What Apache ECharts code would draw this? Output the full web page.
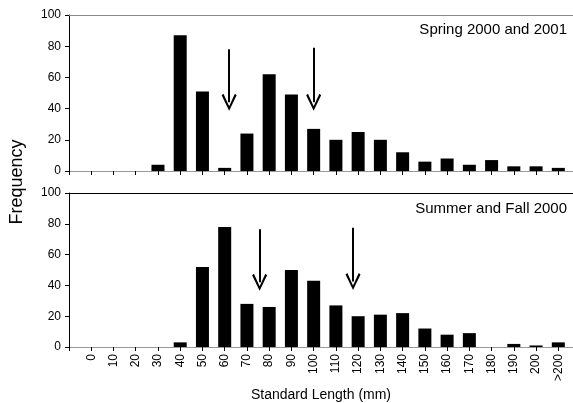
<!DOCTYPE html>
<html>
<head>
<meta charset="utf-8">
<script src="https://cdn.jsdelivr.net/npm/echarts@6/dist/echarts.min.js"></script>
<style>
  html, body { margin: 0; padding: 0; background: #fff; }
  #chart { width: 573px; height: 403px; }
</style>
</head>
<body>
<div id="chart"></div>
<script>
// size classes (mm), one bar each
var categories = ['0', '10', '20', '30', '40', '50', '60', '70', '80', '90', '100',
  '110', '120', '130', '140', '150', '160', '170', '180', '190', '200', '>200'];
var springCounts = [0, 0, 0, 4, 87, 51, 2, 24, 62, 49, 27, 20, 25, 20, 12, 6, 8, 4, 7, 3, 3, 2];
var summerCounts = [0, 0, 0, 0, 3, 52, 78, 28, 26, 50, 43, 27, 20, 21, 22, 12, 8, 9, 0, 2, 1, 3];
var yTicks = [0, 20, 40, 60, 80, 100];
// arrows: [length in mm, top value, value where the head is centred]
var springArrows = [[62, 78, 44], [100, 79, 44]];
var summerArrows = [[75.7, 76.5, 42], [117.7, 77.5, 42.5]];
var panelTitles = ['Spring 2000 and 2001', 'Summer and Fall 2000'];

var FONT = 'Liberation Sans, Arial, sans-serif';
var chart = echarts.init(document.getElementById('chart'));

function pairs(vals) {
  var out = [];
  for (var i = 0; i < vals.length; i++) out.push([i, vals[i]]);
  return out;
}

// open "V" head, drawn pointing up; echarts turns it along the line
var arrowHead = 'path://M7.5,0 L15,15.6 L13.2,17 L7.5,4.6 L1.8,17 L0,15.6 Z';

function arrowLines(list, topColor) {
  var data = [{
    yAxis: 100,
    lineStyle: { color: topColor, width: 1, type: 'solid' }
  }];
  for (var i = 0; i < list.length; i++) {
    var x = list[i][0] / 10;
    data.push([
      { coord: [x, list[i][1]], symbol: 'none' },
      { coord: [x, list[i][2]], symbol: arrowHead, symbolSize: [15, 17] }
    ]);
  }
  return {
    silent: true,
    animation: false,
    symbol: ['none', 'none'],
    label: { show: false },
    emphasis: { disabled: true },
    lineStyle: { color: '#000', width: 2, type: 'solid' },
    itemStyle: { color: '#000' },
    data: data
  };
}

function xAxisFor(idx, showLabels) {
  return {
    type: 'value',
    gridIndex: idx,
    min: -1,
    max: 21.66,
    interval: 1,
    splitLine: { show: false },
    axisLine: { onZero: false, lineStyle: { color: '#999', width: 1 } },
    axisTick: { length: 4, lineStyle: { color: '#000' } },
    axisLabel: {
      show: showLabels,
      rotate: 90,
      margin: 7,
      color: '#000',
      fontSize: 12,
      fontFamily: FONT,
      showMinLabel: true,
      showMaxLabel: true,
      formatter: function (v) {
        return (v === Math.round(v) && v >= 0 && v < categories.length) ? categories[v] : '';
      }
    },
    name: showLabels ? 'Standard Length (mm)' : '',
    nameLocation: 'middle',
    nameGap: 41,
    nameTextStyle: { color: '#000', fontSize: 14, fontFamily: FONT }
  };
}

function yAxisFor(idx) {
  return {
    type: 'value',
    gridIndex: idx,
    min: yTicks[0],
    max: yTicks[yTicks.length - 1],
    interval: 20,
    splitLine: { show: false },
    axisLine: { show: true, onZero: false, lineStyle: { color: '#000', width: 1 } },
    axisTick: { show: true, length: 4, lineStyle: { color: '#000' } },
    axisLabel: { color: '#000', fontSize: 12, fontFamily: FONT, margin: 8 }
  };
}

var option = {
  animation: false,
  textStyle: { fontFamily: FONT },
  title: [{
    text: panelTitles[0],
    right: 6,
    top: 22,
    padding: 0,
    textStyle: { color: '#000', fontSize: 15, fontWeight: 'normal', fontFamily: FONT }
  }, {
    text: panelTitles[1],
    right: 6,
    top: 201,
    padding: 0,
    textStyle: { color: '#000', fontSize: 15, fontWeight: 'normal', fontFamily: FONT }
  }],
  graphic: [{
    type: 'text',
    x: 8,
    y: 182,
    rotation: Math.PI / 2,
    style: {
      text: 'Frequency',
      fill: '#000',
      font: '18px ' + FONT,
      align: 'center',
      verticalAlign: 'top'
    }
  }],
  grid: [
    { left: 69, right: 0, top: 15, height: 156 },
    { left: 69, right: 0, top: 193, height: 155 }
  ],
  xAxis: [xAxisFor(0, false), xAxisFor(1, true)],
  yAxis: [yAxisFor(0), yAxisFor(1)],
  series: [{
    type: 'bar',
    xAxisIndex: 0,
    yAxisIndex: 0,
    barWidth: 13,
    itemStyle: { color: '#000' },
    data: pairs(springCounts),
    markLine: arrowLines(springArrows, '#888')
  }, {
    type: 'bar',
    xAxisIndex: 1,
    yAxisIndex: 1,
    barWidth: 13,
    itemStyle: { color: '#000' },
    data: pairs(summerCounts),
    markLine: arrowLines(summerArrows, '#000')
  }]
};
chart.setOption(option);
</script>
</body>
</html>
